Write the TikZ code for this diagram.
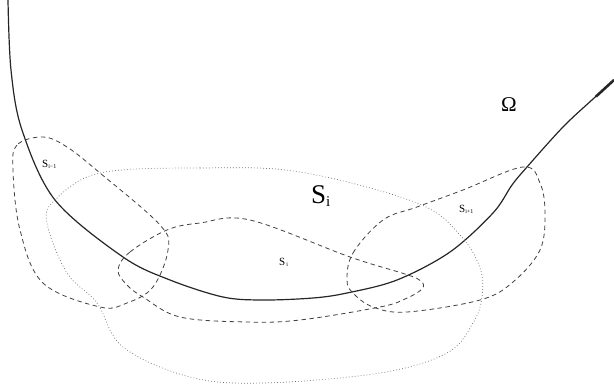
\documentclass[tikz,border=0pt]{standalone}
\usepackage{fontspec}
\setmainfont{Liberation Serif}
\begin{document}
\begin{tikzpicture}[x=1pt,y=-1pt,
  boundary/.style={line width=1.2pt, black!85},
  loopline/.style={dash pattern=on 4.5pt off 3.5pt, line width=0.8pt, black!75},
  region/.style={dash pattern=on 0.8pt off 2.2pt, line width=0.7pt, black!55},
  smalllab/.style={inner sep=0pt, font=\fontsize{11}{11}\selectfont},
]
\useasboundingbox (0,0) rectangle (614,388);
% boundary of Omega
\draw[boundary] plot[smooth, tension=0.55] coordinates {(8,0) (11,70) (22,130) (55,200) (123,257) (170,280) (223,297) (263,300) (313,298) (347,293) (397,280) (450,252) (493,213) (512,185) (527,167) (563,127) (593,99) (614,80)};
\draw[line width=2.6pt, black!85] (596,96.5) -- (614,80);
% big dotted region S_i
\draw[region] plot[smooth cycle, tension=0.6] coordinates {(100,173) (200,168) (300,172) (417,203) (460,235) (480,268) (482,297) (473,323) (447,353) (380,373) (263,383) (190,377) (123,347) (97,303) (67,273) (47,223) (55,200)};
% s_{i-1}
\draw[loopline] plot[smooth cycle, tension=0.6] coordinates {(43,137) (17,145) (13,170) (20,230) (43,283) (100,307) (127,303) (153,287) (168,250) (160,225) (100,173) (67,147)};
% s_i
\draw[loopline] plot[smooth cycle, tension=0.6] coordinates {(118,270) (130,252) (167,230) (200,223) (250,220) (350,257) (405,274) (421,281) (422,289) (405,299) (380,307) (300,320) (247,322) (180,317) (143,297) (127,285)};
% s_{i+1}
\draw[loopline] plot[smooth cycle, tension=0.6] coordinates {(347,280) (353,253) (383,220) (417,207) (463,190) (523,167) (540,183) (545,213) (540,250) (513,282) (480,300) (407,312) (373,307) (353,293)};
% labels
\node[smalllab, anchor=base west] (lsim1) at (42,167) {S\raisebox{-0.35ex}{\fontsize{6}{6}\selectfont i−1}};
\node[smalllab, anchor=base west] (lsi) at (279,265) {S\hspace{1pt}\raisebox{-0.35ex}{\fontsize{6}{6}\selectfont i}};
\node[smalllab, anchor=base west] (lsip1) at (459,212) {S\raisebox{-0.35ex}{\fontsize{6}{6}\selectfont i+1}};
\node[inner sep=0pt, anchor=base west, font=\fontsize{27}{27}\selectfont] (bigS) at (311,203) {S\raisebox{-0.3ex}{\fontsize{15}{15}\selectfont i}};
\node[inner sep=0pt, font=\fontsize{21}{21}\selectfont] (omega) at (509,105) {Ω};
\end{tikzpicture}
\end{document}
